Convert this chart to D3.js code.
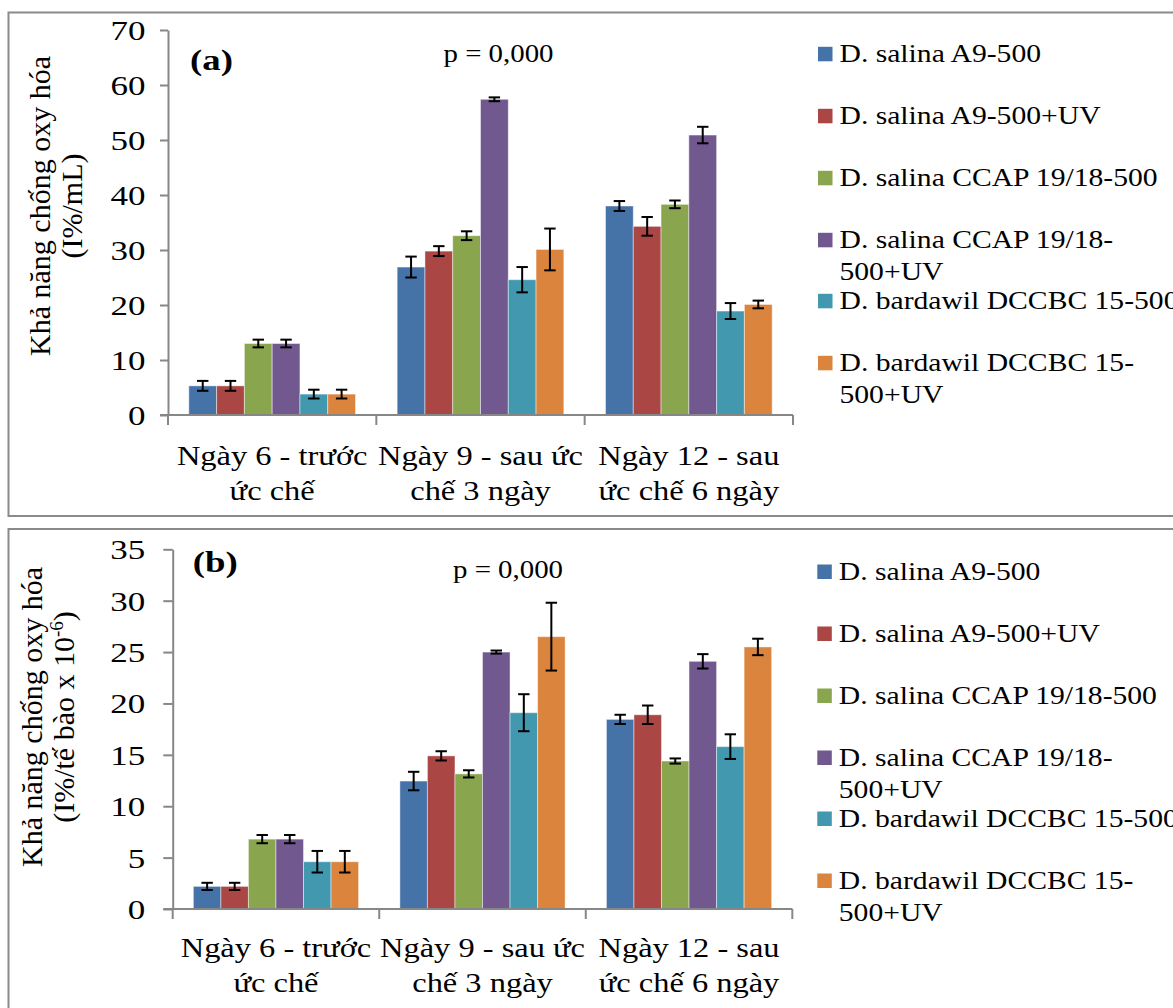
<!DOCTYPE html>
<html>
<head>
<meta charset="utf-8">
<script src="https://cdn.jsdelivr.net/npm/d3@7"></script>
<style>
  html, body { margin: 0; padding: 0; background: #fff; }
  svg { display: block; font-family: "Liberation Serif", "Times New Roman", serif; }
</style>
</head>
<body>
<svg id="chart" width="1173" height="1008"></svg>
<script>
// Categories (two lines each), series and values

var categories = ["Ngày 6", "Ngày 9", "Ngày 12"];
var categoryLines = [
    ["Ngày 6 - trước", "ức chế"],
    ["Ngày 9 - sau ức", "chế 3 ngày"],
    ["Ngày 12 - sau", "ức chế 6 ngày"]
];
var seriesNames = [
    "D. salina A9-500",
    "D. salina A9-500+UV",
    "D. salina CCAP 19/18-500",
    "D. salina CCAP 19/18-500+UV",
    "D. bardawil DCCBC 15-500",
    "D. bardawil DCCBC 15-500+UV"
];
var legendLines = [
    ["D. salina A9-500"],
    ["D. salina A9-500+UV"],
    ["D. salina CCAP 19/18-500"],
    ["D. salina CCAP 19/18-", "500+UV"],
    ["D. bardawil DCCBC 15-500"],
    ["D. bardawil DCCBC 15-", "500+UV"]
];
var seriesColors = ["#4572A7", "#AA4643", "#89A54E", "#71588F", "#4198AF", "#DB843D"];

// panel (a): one row per category, one value per series
var valuesA = [
    [5.3, 5.3, 13.0, 13.0, 3.8, 3.8],
    [26.9, 29.8, 32.6, 57.4, 24.6, 30.1],
    [38.0, 34.3, 38.3, 50.9, 18.9, 20.1]
];
var errorsA = [
    [0.9, 0.9, 0.7, 0.7, 0.8, 0.8],
    [1.9, 0.9, 0.8, 0.35, 2.3, 3.8],
    [0.9, 1.7, 0.7, 1.5, 1.45, 0.7]
];
var ticksA = [0, 10, 20, 30, 40, 50, 60, 70];

// panel (b)
var valuesB = [
    [2.2, 2.2, 6.8, 6.8, 4.6, 4.6],
    [12.45, 14.9, 13.15, 25.0, 19.1, 26.5],
    [18.45, 18.9, 14.4, 24.1, 15.8, 25.5]
];
var errorsB = [
    [0.35, 0.35, 0.4, 0.4, 1.05, 1.05],
    [0.9, 0.45, 0.35, 0.15, 1.8, 3.3],
    [0.45, 0.9, 0.25, 0.7, 1.2, 0.8]
];
var ticksB = [0, 5, 10, 15, 20, 25, 30, 35];

var $svg = d3.select("#chart");
var axisColor = "#878787";

// the source picture is a bit stretched sideways, so text gets a horizontal scale
function stretchedText($parent, x, y, lines, opt){
    var $g = $parent.append("g")
        .attr("transform", "translate(" + x + "," + y + ") scale(" + opt.sx + ",1)");
    var $t = $g.append("text")
        .attr("font-size", opt.size)
        .attr("font-weight", opt.bold ? "bold" : null)
        .attr("text-anchor", opt.anchor || "start")
        .attr("fill", "#000");
    lines.forEach(function(line, li){
        $t.append("tspan").attr("x", 0).attr("y", li * (opt.lh || 0)).text(line);
    });
    return $t;
}

drawPanel({
    frame: [8.5, 12.5, 1185, 516],
    values: valuesA, errors: errorsA, ticks: ticksA,
    yMax: 70, yRange: [415, 30], xRange: [168, 793],
    tickSize: 8, labelEnd: 22.5,
    tag: "(a)", tagPos: [190, 70],
    pPos: [443.5, 61.5],
    yTitle: ["Khả năng chống oxy hóa", "(I%/mL)"], yTitleX: 50, yTitleY: 206,
    catBase: 465,
    legendX: 818, legendTop: 62.3
});

drawPanel({
    frame: [8.5, 529, 1185, 1030],
    values: valuesB, errors: errorsB, ticks: ticksB,
    yMax: 35, yRange: [909, 549.3], xRange: [172.7, 792.3],
    tickSize: 9.4, labelEnd: 27.5,
    tag: "(b)", tagPos: [192.7, 572],
    pPos: [453, 578],
    yTitle: ["Khả năng chống oxy hóa", "(I%/tế bào x 10", "-6", ")"], yTitleX: 42, yTitleY: 717,
    catBase: 957,
    legendX: 817.3, legendTop: 580
});

function drawPanel(o){
    var $g = $svg.append("g");

    // outer frame
    $g.append("rect")
        .attr("x", o.frame[0]).attr("y", o.frame[1])
        .attr("width", o.frame[2] - o.frame[0])
        .attr("height", o.frame[3] - o.frame[1])
        .attr("fill", "none")
        .attr("stroke", "#8a8a8a")
        .attr("stroke-width", 2);

    var y = d3.scaleLinear().domain([0, o.yMax]).range(o.yRange);
    var x0 = d3.scaleBand().domain(categories).range(o.xRange).padding(0);
    var pad = x0.bandwidth() * 0.1;
    var x1 = d3.scaleBand().domain(d3.range(seriesNames.length))
        .range([pad, x0.bandwidth() - pad]).padding(0);

    // bars
    var $groups = $g.selectAll("g.cat").data(categories).join("g")
        .attr("class", "cat")
        .attr("transform", function(d){ return "translate(" + x0(d) + ",0)"; });

    $groups.each(function(cat, ci){
        var rows = o.values[ci].map(function(v, si){
            return { si: si, v: v, e: o.errors[ci][si] };
        });
        var $c = d3.select(this);
        $c.selectAll("rect").data(rows).join("rect")
            .attr("x", function(d){ return x1(d.si); })
            .attr("y", function(d){ return y(d.v); })
            .attr("width", x1.bandwidth())
            .attr("height", function(d){ return y(0) - y(d.v); })
            .attr("fill", function(d){ return seriesColors[d.si]; })
            .attr("stroke", "rgba(255,255,255,0.45)")
            .attr("stroke-width", 1);

        // error bars
        var capW = 5.7;
        var $err = $c.selectAll("g.err").data(rows).join("g")
            .attr("class", "err")
            .attr("stroke", "#000")
            .attr("stroke-width", 2);
        $err.append("line")
            .attr("x1", function(d){ return x1(d.si) + x1.bandwidth()/2; })
            .attr("x2", function(d){ return x1(d.si) + x1.bandwidth()/2; })
            .attr("y1", function(d){ return y(d.v + d.e); })
            .attr("y2", function(d){ return y(d.v - d.e); });
        [1, -1].forEach(function(s){
            $err.append("line")
                .attr("x1", function(d){ return x1(d.si) + x1.bandwidth()/2 - capW; })
                .attr("x2", function(d){ return x1(d.si) + x1.bandwidth()/2 + capW; })
                .attr("y1", function(d){ return y(d.v + s*d.e); })
                .attr("y2", function(d){ return y(d.v + s*d.e); });
        });
    });

    // y axis
    var $yAxis = $g.append("g")
        .attr("transform", "translate(" + o.xRange[0] + ",0)")
        .call(d3.axisLeft(y).tickValues(o.ticks).tickSize(o.tickSize).tickSizeOuter(0));
    $yAxis.select(".domain").attr("stroke", axisColor).attr("stroke-width", 2);
    $yAxis.selectAll(".tick line").attr("stroke", axisColor).attr("stroke-width", 2);
    $yAxis.selectAll(".tick text")
        .attr("x", 0)
        .attr("dy", "0.34em")
        .attr("transform", "translate(" + (-o.labelEnd) + ",0) scale(1.25,1)")
        .attr("text-anchor", "end")
        .attr("fill", "#000")
        .style("font-family", "Liberation Serif")
        .style("font-size", "28px");

    // x axis: baseline and boundary ticks
    var y0 = y(0);
    $g.append("line")
        .attr("x1", o.xRange[0] - o.tickSize).attr("x2", o.xRange[1])
        .attr("y1", y0).attr("y2", y0)
        .attr("stroke", axisColor).attr("stroke-width", 2);
    var bounds = categories.map(function(c){ return x0(c); }).concat([o.xRange[1]]);
    $g.selectAll("line.xtick").data(bounds).join("line")
        .attr("class", "xtick")
        .attr("x1", function(d){ return d; }).attr("x2", function(d){ return d; })
        .attr("y1", y0).attr("y2", y0 + 10)
        .attr("stroke", axisColor).attr("stroke-width", 2);

    // category labels (two lines)
    categories.forEach(function(c, ci){
        stretchedText($g, x0(c) + x0.bandwidth()/2, o.catBase, categoryLines[ci],
            { size: 27.5, sx: 1.18, anchor: "middle", lh: 35.5 });
    });

    // y title, rotated
    var $yt = $g.append("text")
        .attr("transform", "translate(" + o.yTitleX + "," + o.yTitleY + ") rotate(-90)")
        .attr("text-anchor", "middle")
        .attr("font-size", 30)
        .attr("fill", "#000");
    $yt.append("tspan").attr("x", 0).attr("y", 0).text(o.yTitle[0]);
    $yt.append("tspan").attr("x", 0).attr("dy", 32).text(o.yTitle[1]);
    if (o.yTitle.length > 2){
        $yt.append("tspan").attr("dy", -11).attr("font-size", 19).text(o.yTitle[2]);
        $yt.append("tspan").attr("dy", 11).text(o.yTitle[3]);
    }

    // panel tag and p value
    stretchedText($g, o.tagPos[0], o.tagPos[1], [o.tag], { size: 29, sx: 1.27, bold: true });
    stretchedText($g, o.pPos[0], o.pPos[1], ["p = 0,000"], { size: 26, sx: 1.11 });

    // legend
    var gaps = [0, 62, 62, 62, 61, 62];
    var yPos = o.legendTop;
    seriesNames.forEach(function(name, si){
        yPos += gaps[si];
        $g.append("rect")
            .attr("x", o.legendX).attr("y", yPos - 15.5)
            .attr("width", 14.5).attr("height", 14.5)
            .attr("fill", seriesColors[si]);
        stretchedText($g, o.legendX + 21.5, yPos, legendLines[si],
            { size: 26, sx: 1.14, lh: 32 });
    });
}
</script>
</body>
</html>
